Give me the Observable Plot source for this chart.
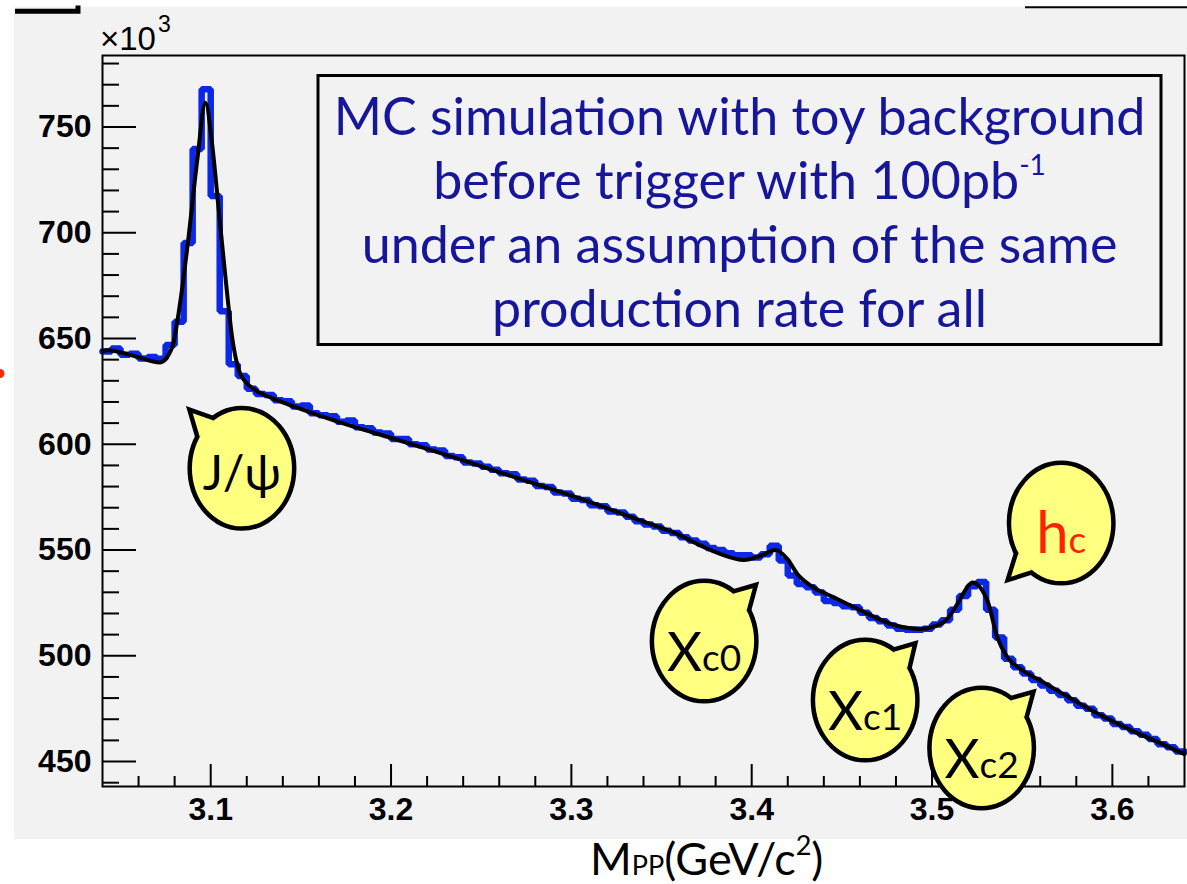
<!DOCTYPE html>
<html>
<head>
<meta charset="utf-8">
<script src="https://cdn.jsdelivr.net/npm/d3@7"></script>
<script src="https://cdn.jsdelivr.net/npm/@observablehq/plot@0.6"></script>
<style>
  html, body { margin: 0; padding: 0; background: #fff; }
  #page { position: relative; width: 1187px; height: 884px; overflow: hidden; }
  #panel { position: absolute; left: 14px; top: 7px; width: 1173px; height: 832px; background: #f2f2f2; }
  #chart { position: absolute; left: 0; top: 0; width: 1187px; height: 884px; }
  #notes { position: absolute; left: 0; top: 0; }
</style>
</head>
<body>
<div id="page">
  <div id="panel"></div>
  <div id="chart"></div>
  <svg id="notes" width="1187" height="884" xmlns="http://www.w3.org/2000/svg">
    <path d="M15,11.2H78V5.5" fill="none" stroke="#000" stroke-width="5"/>
    <line x1="1025" y1="7.2" x2="1187" y2="7.2" stroke="#000" stroke-width="2"/>
    <circle cx="0" cy="373.5" r="4.5" fill="#ff2a00"/>
    <text x="100" y="50" font-family="'Liberation Sans', Arial, Helvetica, sans-serif" font-size="33" fill="#000">×10<tspan font-size="23" dx="2" dy="-18">3</tspan></text>
    <rect x="318" y="75.5" width="843" height="269" fill="none" stroke="#000" stroke-width="3"/>
    <g font-family="Lato, 'Noto Sans', sans-serif" font-size="52" fill="#16169a" text-anchor="middle">
      <text x="739.5" y="135">MC simulation with toy background</text>
      <text x="739.5" y="199">before trigger with 100pb<tspan font-size="28" dy="-24">-1</tspan></text>
      <text x="739.5" y="263">under an assumption of the same</text>
      <text x="739.5" y="327">production rate for all</text>
    </g>
    <text x="590" y="875" font-family="Lato, 'Noto Sans', sans-serif" font-size="45" fill="#000">M<tspan font-size="27">PP</tspan>(GeV/c<tspan font-size="27" dy="-20">2</tspan><tspan dy="20">)</tspan></text>
  </svg>
</div>
<script>
// Invariant mass histogram: 120 bins of 5 MeV from 3.04 to 3.64 GeV/c^2 (counts in units of 10^3)
const binStart = 3.04;
const binWidth = 0.005;
const counts = [
  643.8, 645.3, 642.3, 642.8, 640.6, 641.3, 640.4, 646.9, 657.9, 695.2,
  739.6, 767.9, 717.4, 662.9, 637.8, 632.3, 626.3, 623.8, 623.3, 620.8,
  620.3, 617.8, 618.3, 614.7, 613.7, 613.2, 610.7, 611.2, 608.1, 607.6,
  605.6, 605.1, 602.5, 602.5, 600.0, 599.5, 597.5, 597.0, 594.4, 593.9,
  591.4, 590.9, 589.4, 587.9, 586.3, 585.8, 583.3, 582.8, 580.3, 579.8,
  577.2, 576.7, 574.2, 573.7, 571.2, 570.7, 568.2, 567.7, 565.7, 563.6,
  562.1, 561.1, 559.1, 558.1, 556.0, 554.5, 553.0, 551.0, 550.0, 548.5,
  547.5, 547.5, 546.5, 548.0, 552.0, 545.0, 537.9, 533.9, 532.4, 529.9,
  525.9, 524.9, 523.4, 522.9, 520.4, 517.9, 516.3, 514.3, 512.8, 512.3,
  512.3, 512.8, 514.8, 516.8, 521.8, 528.3, 532.9, 534.9, 521.8, 508.7,
  498.6, 494.6, 491.6, 488.5, 486.0, 483.5, 481.5, 479.0, 476.4, 474.9,
  471.9, 470.4, 467.8, 466.3, 464.3, 462.7, 460.7, 458.2, 456.7, 454.7
];

// Fitted signal + background curve
const fitMass = [
  3.040, 3.0426, 3.0572, 3.072, 3.0786, 3.0832, 3.0879, 3.0925, 3.0971, 3.1008,
  3.1045, 3.1082, 3.1119, 3.1165, 3.1239, 3.130, 3.140, 3.160, 3.180, 3.200,
  3.220, 3.240, 3.260, 3.280, 3.300, 3.320, 3.340, 3.360, 3.3717, 3.3828,
  3.3956, 3.405, 3.4133, 3.4197, 3.4253, 3.4327, 3.4456, 3.460, 3.480, 3.4936,
  3.5064, 3.514, 3.5177, 3.5224, 3.5307, 3.5362, 3.5418, 3.549, 3.560, 3.570,
  3.590, 3.610, 3.625, 3.640
];
const fitCounts = [
  644.0, 644.5, 641.8, 638.7, 645.7, 667.8, 699.3, 734.0, 761.5, 741.8,
  710.3, 678.8, 650.5, 633.2, 626.1, 623.3, 619.8, 613.7, 608.1, 603.0,
  597.8, 592.4, 586.8, 581.3, 575.7, 569.7, 563.4, 557.1, 552.1, 548.1,
  545.3, 547.3, 550.0, 545.8, 538.7, 533.2, 527.6, 521.6, 514.3, 512.7,
  515.8, 524.5, 530.0, 534.7, 526.1, 508.7, 499.2, 493.8, 488.3, 483.3,
  473.5, 465.0, 459.3, 453.5
];

// Axis ticks
const xMajor = [3.1, 3.2, 3.3, 3.4, 3.5, 3.6];
const xMinor = [3.06, 3.08, 3.12, 3.14, 3.16, 3.18, 3.22, 3.24, 3.26, 3.28, 3.32, 3.34,
                3.36, 3.38, 3.42, 3.44, 3.46, 3.48, 3.52, 3.54, 3.56, 3.58, 3.62];
const yMajor = [450, 500, 550, 600, 650, 700, 750];
const yMinor = [440, 460, 470, 480, 490, 510, 520, 530, 540, 560, 570, 580, 590,
                610, 620, 630, 640, 660, 670, 680, 690, 710, 720, 730, 740, 760, 770, 780];

// Resonance call-outs: label, the point the tail points at, and the bubble centre
const noteMain = ["J/ψ", "Χ", "Χ", "Χ", "h"];
const noteSub = ["", "c0", "c1", "c2", "c"];
const noteTipMass = [3.0844, 3.4064, 3.4946, 3.5603, 3.5381];
const noteTipCount = [620.1, 536.9, 509.3, 486.4, 531.7];
const noteMass = [3.1176, 3.3739, 3.4632, 3.5278, 3.5719];
const noteCount = [588.4, 506.7, 478.8, 456.2, 562.5];

const histogram = counts.flatMap((c, i) => [
  {mass: binStart + i * binWidth, count: c},
  {mass: binStart + (i + 1) * binWidth, count: c}
]);
const fit = fitMass.map((m, i) => ({mass: m, count: fitCounts[i]}));

function speechBubbles(index, scales) {
  const g = d3.create("svg:g");
  const rx = 50, ry = 58, spread = 0.2, outline = 9;
  noteMain.forEach((main, i) => {
    const cx = scales.x(noteMass[i]), cy = scales.y(noteCount[i]);
    const tx = scales.x(noteTipMass[i]), ty = scales.y(noteTipCount[i]);
    const a = Math.atan2((ty - cy) / ry, (tx - cx) / rx);
    const b1 = [cx + rx * Math.cos(a - spread), cy + ry * Math.sin(a - spread)];
    const b2 = [cx + rx * Math.cos(a + spread), cy + ry * Math.sin(a + spread)];
    // pull the tip in so that the mitred outline ends at the target point
    const mx = (b1[0] + b2[0]) / 2, my = (b1[1] + b2[1]) / 2;
    const half = Math.hypot(b1[0] - b2[0], b1[1] - b2[1]) / 2;
    const len = Math.hypot(tx - mx, ty - my);
    const shift = (outline / 2) / Math.sin(Math.atan2(half, len));
    const tip = [tx - (tx - mx) / len * shift, ty - (ty - my) / len * shift];
    const tail = `M${b1}L${tip}L${b2}Z`;
    const bubble = g.append("g");
    for (const [stroke, width] of [["#000", outline], ["none", 0]]) {
      bubble.append("path").attr("d", tail)
        .attr("fill", "#ffff80").attr("stroke", stroke).attr("stroke-width", width)
        .attr("stroke-linejoin", "miter").attr("stroke-miterlimit", 30);
      bubble.append("ellipse").attr("cx", cx).attr("cy", cy).attr("rx", rx).attr("ry", ry)
        .attr("fill", "#ffff80").attr("stroke", stroke).attr("stroke-width", width);
    }
    const red = main === "h";
    const label = bubble.append("text")
      .attr("x", cx).attr("y", cy + (main === "J/ψ" ? 22 : 30))
      .attr("text-anchor", "middle")
      .attr("font-family", "Lato, 'Noto Sans', sans-serif")
      .attr("fill", red ? "#ff2200" : "#000");
    label.append("tspan").attr("font-size", main === "J/ψ" ? 48 : red ? 58 : 54).text(main);
    if (noteSub[i]) label.append("tspan").attr("font-size", 37).text(noteSub[i]);
  });
  return g.node();
}

const axisFont = {
  fontFamily: "'Liberation Sans', Arial, Helvetica, sans-serif",
  fontSize: 32,
  fontWeight: "bold"
};

const chart = Plot.plot({
  width: 1187,
  height: 884,
  marginLeft: 102,
  marginRight: 3,
  marginTop: 55,
  marginBottom: 98,
  style: "background: transparent; color: #000; overflow: visible;",
  x: {domain: [3.04, 3.64]},
  y: {domain: [438.2, 783.8]},
  marks: [
    Plot.line(histogram, {x: "mass", y: "count", stroke: "#0a28e6", strokeWidth: 6.5, strokeLinejoin: "miter"}),
    Plot.line(fit, {x: "mass", y: "count", curve: "monotone-x", stroke: "#000", strokeWidth: 4}),
    Plot.axisY(yMinor, {tickSize: -17, fill: "none", label: null, strokeWidth: 2}),
    Plot.axisY(yMajor, {tickSize: -34, tickPadding: 45, label: null, strokeWidth: 2, ...axisFont}),
    Plot.axisX(xMinor, {tickSize: -10, fill: "none", label: null, strokeWidth: 2}),
    Plot.axisX(xMajor, {tickSize: -22, tickPadding: 33, tickFormat: d3.format(".1f"), label: null, strokeWidth: 2, ...axisFont}),
    Plot.frame({stroke: "#000", strokeWidth: 2}),
    speechBubbles
  ]
});

document.getElementById("chart").append(chart);
</script>
</body>
</html>
